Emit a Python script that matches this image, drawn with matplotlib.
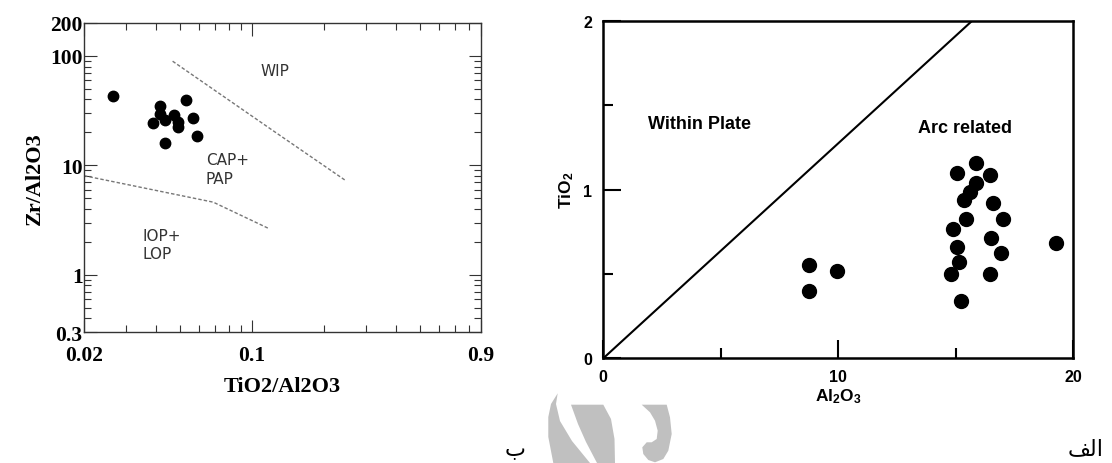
import matplotlib
matplotlib.use("Agg")
import matplotlib.pyplot as plt
from matplotlib.patches import Polygon

plt.rcParams["mathtext.fontset"] = "custom"
plt.rcParams["mathtext.bf"] = "Liberation Sans:bold"
plt.rcParams["mathtext.rm"] = "Liberation Sans:bold"

# ---- 左图: Zr/Al2O3 vs TiO2/Al2O3 (对数) ----
ti_al = [0.0263, 0.0414, 0.0414, 0.0389, 0.0434, 0.0474,
         0.0492, 0.0492, 0.0532, 0.0567, 0.0593, 0.0434]
zr_al = [42.7, 34.6, 29.3, 24.4, 26.2, 28.9,
         25.1, 22.5, 39.2, 27.3, 18.5, 15.9]

# 分区界线
wip_x = [0.0468, 0.1228, 0.244]
wip_y = [89.5, 20.7, 7.35]
iop_x = [0.02, 0.0691, 0.118]
iop_y = [8.05, 4.61, 2.64]

left_xticks = [0.02, 0.1, 0.9]
left_xminor = [0.03, 0.04, 0.05, 0.06, 0.07, 0.08, 0.09,
               0.2, 0.3, 0.4, 0.5, 0.6, 0.7, 0.8]
left_yticks = [0.3, 1, 10, 100, 200]
left_yminor = [0.4, 0.5, 0.6, 0.7, 0.8, 0.9,
               2, 3, 4, 5, 6, 7, 8, 9,
               20, 30, 40, 50, 60, 70, 80, 90]

# ---- 右图: TiO2 vs Al2O3 ----
al2o3 = [8.77, 8.77, 9.96,
         15.04, 15.85, 16.45, 15.85, 15.60, 15.36, 16.57, 15.43, 17.00,
         14.89, 16.50, 15.04, 16.92, 15.13, 14.79, 16.45, 15.22, 19.25]
tio2 = [0.555, 0.397, 0.519,
        1.098, 1.157, 1.086, 1.039, 0.983, 0.938, 0.920, 0.825, 0.825,
        0.766, 0.711, 0.661, 0.624, 0.569, 0.499, 0.499, 0.341, 0.683]

boundary_x = [0, 15.7]
boundary_y = [0, 2]

fig = plt.figure(figsize=(11.12, 4.64), dpi=100)

# 左图
ax1 = fig.add_axes([0.0755, 0.2823, 0.357, 0.666])
ax1.set_xscale("log")
ax1.set_yscale("log")
ax1.set_xlim(0.02, 0.9)
ax1.set_ylim(0.3, 200)
ax1.plot(ti_al, zr_al, "o", color="black", markersize=7.5, zorder=5)
ax1.plot(wip_x, wip_y, color="#777777", lw=1, linestyle=(0, (2.5, 1.5)))
ax1.plot(iop_x, iop_y, color="#777777", lw=1, linestyle=(0, (2.5, 1.5)))

txt_kw = dict(fontsize=11, color="#333333", family="DejaVu Sans")
ax1.text(0.109, 73.5, "WIP", ha="left", va="center", **txt_kw)
ax1.text(0.0644, 11.4, "CAP+", ha="left", va="center", **txt_kw)
ax1.text(0.0644, 7.6, "PAP", ha="left", va="center", **txt_kw)
ax1.text(0.0352, 2.3, "IOP+", ha="left", va="center", **txt_kw)
ax1.text(0.0352, 1.55, "LOP", ha="left", va="center", **txt_kw)

ax1.set_xticks(left_xticks)
ax1.set_xticks(left_xminor, minor=True)
ax1.set_xticklabels(["0.02", "0.1", "0.9"])
ax1.set_yticks(left_yticks)
ax1.set_yticks(left_yminor, minor=True)
ax1.set_yticklabels(["0.3", "1", "10", "100", "200"])
ax1.xaxis.set_minor_formatter(plt.NullFormatter())
ax1.yaxis.set_minor_formatter(plt.NullFormatter())
ax1.tick_params(which="both", direction="in", top=True, right=True,
                color="#333333", width=0.8)
ax1.tick_params(which="major", length=9)
ax1.tick_params(which="minor", length=5)
ax1.tick_params(axis="y", which="major", pad=1)
ax1.tick_params(axis="x", which="major", pad=9)
for lab in ax1.get_xticklabels() + ax1.get_yticklabels():
    lab.set_family("Liberation Serif")
    lab.set_fontweight("bold")
    lab.set_fontsize(15.5)
for sp in ax1.spines.values():
    sp.set_color("#333333")
    sp.set_linewidth(1)
ax1.set_xlabel("TiO2/Al2O3", family="Liberation Serif", fontweight="bold",
               fontsize=16, labelpad=8)
ax1.set_ylabel("Zr/Al2O3", family="Liberation Serif", fontweight="bold",
               fontsize=16, labelpad=4)

# 右图
ax2 = fig.add_axes([0.5425, 0.2256, 0.4227, 0.7276])
ax2.set_xlim(0, 20)
ax2.set_ylim(0, 2)
ax2.plot(boundary_x, boundary_y, color="black", lw=1.5)
ax2.plot(al2o3, tio2, "o", color="black", markersize=10, zorder=5)
ax2.text(1.9, 1.39, "Within Plate", fontsize=13, fontweight="bold",
         family="Liberation Sans", ha="left", va="center")
ax2.text(13.4, 1.37, "Arc related", fontsize=13, fontweight="bold",
         family="Liberation Sans", ha="left", va="center")

ax2.set_xticks([0, 10, 20])
ax2.set_xticks([5, 15], minor=True)
ax2.set_yticks([0, 1, 2])
ax2.set_yticks([0.5, 1.5], minor=True)
ax2.tick_params(which="both", direction="in", width=1.5)
ax2.tick_params(which="major", length=13)
ax2.tick_params(which="minor", length=7)
ax2.tick_params(axis="y", which="major", pad=8)
ax2.tick_params(axis="x", which="major", pad=8)
for lab in ax2.get_xticklabels() + ax2.get_yticklabels():
    lab.set_family("Liberation Sans")
    lab.set_fontweight("bold")
    lab.set_fontsize(11.5)
for sp in ax2.spines.values():
    sp.set_linewidth(1.8)
ax2.set_xlabel(r"$\mathbf{Al_2O_3}$", fontsize=12.5, labelpad=1)
ax2.set_ylabel(r"$\mathbf{TiO_2}$", fontsize=12.5, labelpad=5)

# 水印 (像素坐标 -> 图坐标)
H = 464.0
W = 1112.0


def px(pts):
    return [(x / W, 1 - y / H) for x, y in pts]


wm_shapes = [
    px([(557.7, 394.3), (551, 405), (548.3, 418), (548.3, 438), (553.3, 464),
        (590, 464), (572, 442), (560, 422), (556, 405)]),
    px([(571, 405.7), (603.3, 405.7), (611, 420), (614.5, 440), (615, 464),
        (597, 464), (586, 443), (578, 425)]),
    px([(641.7, 405.7), (666.7, 405.7), (670, 418.3), (671.7, 435),
        (668.3, 451.7), (663.3, 460), (655, 463.3), (648.3, 461),
        (643.3, 455), (642.3, 448.3), (646.7, 443.3), (651.7, 443.3),
        (656.7, 440), (657.7, 431.7), (655, 421.7), (650, 413.3)]),
]
for pts in wm_shapes:
    fig.patches.append(Polygon(pts, closed=True, transform=fig.transFigure,
                               facecolor="#c0c0c0", edgecolor="none"))

# 阿拉伯字母标注 (手动使用表现形式, 视觉顺序)
fig.text(1086 / W, 1 - 449 / H, "\ufed2\ufedf\ufe8d", fontsize=16,
         family="DejaVu Sans", ha="center", va="center")
fig.text(515 / W, 1 - 450 / H, "\ufe8f", fontsize=16,
         family="DejaVu Sans", ha="center", va="center")

fig.savefig("out.png", dpi=100)
